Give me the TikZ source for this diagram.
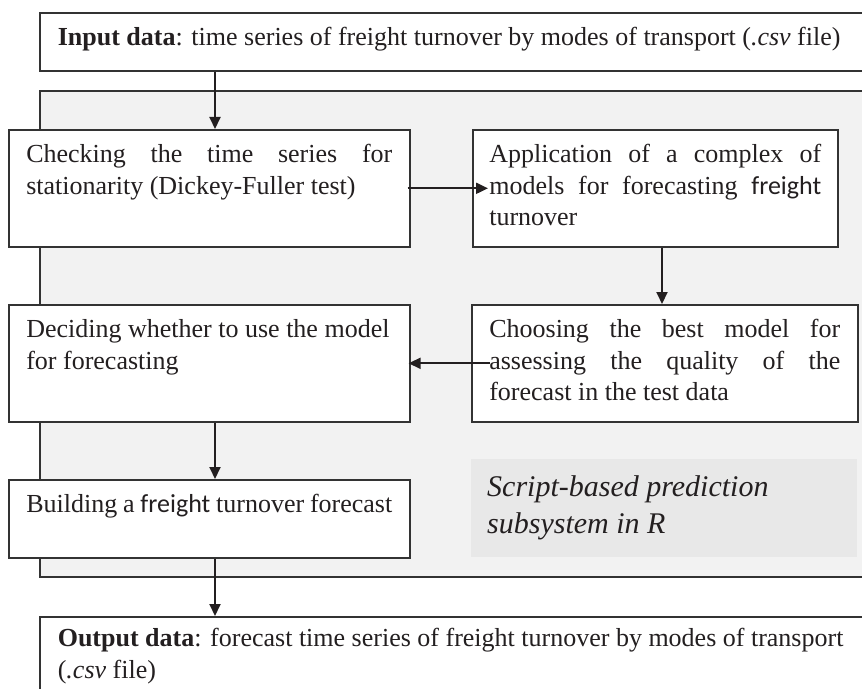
\documentclass[tikz,border=0pt]{standalone}
\usepackage{fontspec}
\setmainfont{Liberation Serif}
\newfontfamily\calfont{Carlito}
\usetikzlibrary{arrows.meta,calc}
\definecolor{ink}{HTML}{231F20}
\definecolor{panelfill}{HTML}{F2F2F2}
\definecolor{labelfill}{HTML}{E8E8E8}
\definecolor{edge}{HTML}{333333}
\hbadness=10000 \hfuzz=5pt
% #1 text width, #2 box height, #3 top gap, #4 text
\newcommand{\boxtxt}[4]{\parbox[c][#2][t]{#1}{\vspace*{#3}\strut #4}}
\tikzset{
  stage/.style={draw=edge, line width=1.6bp, fill=white, anchor=north west,
    inner ysep=0pt, text=ink, font=\fontsize{26bp}{31.5bp}\selectfont},
  arr/.style={draw=ink, line width=2bp, -{Triangle[length=12bp,width=11bp]}},
}
\begin{document}
\begin{tikzpicture}[x=1bp,y=-1bp]
\useasboundingbox (0,0) rectangle (862,689);
\clip (0,0) rectangle (862,689);

% input box
\node[stage, inner xsep=18bp] (input) at (39,12)
  {\boxtxt{825bp}{58bp}{11bp}{\textbf{Input data}: time series of freight turnover by modes of transport (\textit{.csv} file)}};

% grey panel
\node[draw=edge, line width=1.6bp, fill=panelfill, anchor=north west,
  minimum width=861bp, minimum height=486bp, inner sep=0pt] (panel) at (39,90) {};

% stages
\node[stage, inner xsep=17.5bp] (checking) at (8,129)
  {\boxtxt{366bp}{117bp}{10.95bp}{Checking the time series for\linebreak stationarity (Dickey-Fuller test)}};
\node[stage, inner xsep=16.5bp] (app) at (472,129)
  {\boxtxt{332bp}{117bp}{10.95bp}{Application of a complex of\linebreak models for forecasting {\calfont freight}\linebreak turnover}};
\node[stage, inner xsep=17.5bp] (deciding) at (8,304)
  {\boxtxt{366bp}{117bp}{10.95bp}{\raggedright Deciding whether to use the model\\ for forecasting}};
\node[stage, inner xsep=17.5bp] (choosing) at (471,304)
  {\boxtxt{351bp}{117bp}{10.95bp}{Choosing the best model for\linebreak assessing the quality of the\linebreak forecast in the test data}};
\node[stage, inner xsep=17.5bp] (building) at (8,479)
  {\boxtxt{366bp}{78bp}{10.95bp}{\raggedright Building a {\calfont freight} turnover forecast}};

% label
\node[fill=labelfill, anchor=north west, inner xsep=16bp, inner ysep=0pt, text=ink,
  font=\fontsize{30bp}{37bp}\selectfont\itshape] (label) at (471,459)
  {\boxtxt{354bp}{98bp}{11.1bp}{\raggedright Script-based prediction\\ subsystem in R}};

% output box
\node[stage, inner xsep=18bp] (output) at (39,616)
  {\boxtxt{825bp}{100bp}{8bp}{\raggedright\textbf{Output data}: forecast time series of freight turnover by modes of transport\\ (\textit{.csv} file)}};

% connectors
\draw[arr] ($(input.south west)+(176,0)$) -- ($(checking.north west)+(207,0)$);
\draw[arr] ($(checking.east)+(-3,0)$) -- ($(app.west)+(16,0)$);
\draw[arr] ($(app.south west)+(190,0)$) -- ($(choosing.north west)+(191,0)$);
\draw[arr] ($(choosing.west)+(19,0)$) -- ($(deciding.east)+(-2,0)$);
\draw[arr] ($(deciding.south west)+(207,0)$) -- ($(building.north west)+(207,0)$);
\draw[arr] ($(building.south west)+(207,0)$) -- ($(output.north west)+(176,0)$);
\end{tikzpicture}
\end{document}
